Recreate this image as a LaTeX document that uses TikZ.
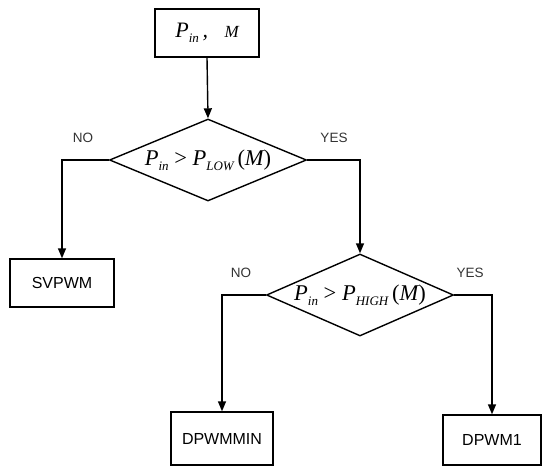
\documentclass[tikz,border=0pt]{standalone}
\usepackage{fontspec}
\setmainfont{Liberation Sans}
\newfontfamily\tms{Liberation Serif}
\newcommand\lowsub[1]{\raisebox{-0.45ex}{\fontsize{13}{13}\selectfont #1}}
\usetikzlibrary{shapes.geometric,arrows.meta}
\begin{document}
\begin{tikzpicture}[x=1pt,y=-1pt,
  box/.style={draw,line width=1.4pt,fill=white,inner sep=0pt,font=\fontsize{16}{18}\selectfont},
  dec/.style={draw,line width=1.4pt,diamond,inner sep=0pt,font=\tms\fontsize{22.5}{24}\selectfont},
  lab/.style={font=\fontsize{13.5}{15}\selectfont,text=black!80},
  conn/.style={line width=1.4pt,-{Triangle[length=10pt,width=8pt]}}]
\useasboundingbox (0,0) rectangle (543,468);
\node[box,minimum width=104pt,minimum height=48pt] (in) at (207,33) {\tms\fontsize{22}{23}\selectfont\itshape P\lowsub{in}\,,\ \ \ {\fontsize{17}{18}\selectfont M}};
\node[dec,minimum width=197pt,minimum height=82pt,aspect=2.4] (d1) at (208,160) {\itshape P\lowsub{in}\upshape\ >\ \itshape P\lowsub{LOW}\upshape\,(\itshape M\upshape)};
\node[dec,minimum width=187pt,minimum height=82pt,aspect=2.28] (d2) at (360,295) {\itshape P\lowsub{in}\upshape\ >\ \itshape P\lowsub{HIGH}\upshape\,(\itshape M\upshape)};
\node[box,minimum width=104pt,minimum height=48pt] (sv) at (62,283) {SVPWM};
\node[box,minimum width=102pt,minimum height=53pt] (dmin) at (222,438.5) {DPWMMIN};
\node[box,minimum width=98pt,minimum height=50pt] (d1w) at (492,440) {DPWM1};
\draw[conn] (in.south) -- (d1.north);
\draw[conn] (d1.west) -| (sv.north);
\draw[conn] (d1.east) -| (d2.north);
\draw[conn] (d2.west) -| (dmin.north);
\draw[conn] (d2.east) -| (d1w.north);
\node[lab] (no1) at (83,138) {NO};
\node[lab] (yes1) at (334,138) {YES};
\node[lab] (no2) at (241,273) {NO};
\node[lab] (yes2) at (470,273) {YES};
\end{tikzpicture}
\end{document}
